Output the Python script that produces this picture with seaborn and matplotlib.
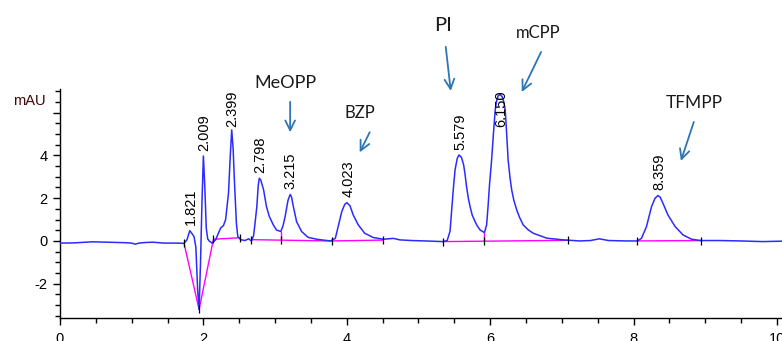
import numpy as np
import pandas as pd
import matplotlib
matplotlib.use("Agg")
import matplotlib.pyplot as plt
from matplotlib.ticker import MultipleLocator, FixedLocator
import seaborn as sns

# ---------------- data ----------------
time_min = [0.00, 0.20, 0.45, 0.70, 0.90, 1.00, 1.05, 1.10, 1.20, 1.30, 1.45, 1.60, 1.73,
            1.77, 1.81, 1.84, 1.87, 1.895, 1.92, 1.94, 1.96, 1.98, 2.00, 2.02, 2.04, 2.06,
            2.08, 2.12, 2.17, 2.21, 2.24, 2.28, 2.31, 2.35, 2.375, 2.395, 2.415, 2.43,
            2.46, 2.48, 2.52, 2.58, 2.63, 2.67, 2.70, 2.72, 2.745, 2.765, 2.78, 2.80,
            2.84, 2.88, 2.92, 2.975, 3.02, 3.08, 3.11, 3.14, 3.18, 3.21, 3.23, 3.25,
            3.30, 3.37, 3.46, 3.58, 3.77, 3.84, 3.88, 3.93, 3.97, 4.00, 4.045, 4.09,
            4.16, 4.25, 4.37, 4.51, 4.65, 4.74, 4.90, 5.10, 5.34, 5.40, 5.44, 5.46, 5.485,
            5.51, 5.54, 5.565, 5.60, 5.63, 5.65, 5.67, 5.695, 5.72, 5.75, 5.79, 5.82, 5.86,
            5.92, 5.95, 5.97, 5.99, 6.02, 6.045, 6.07, 6.09, 6.11, 6.14, 6.17, 6.19, 6.21,
            6.23, 6.25, 6.275, 6.30, 6.33, 6.37, 6.41, 6.46, 6.53, 6.60, 6.79, 7.02, 7.25,
            7.40, 7.52, 7.65, 7.90, 8.05, 8.11, 8.18, 8.25, 8.30, 8.34, 8.37, 8.41, 8.48,
            8.58, 8.69, 8.81, 8.93, 9.20, 9.50, 9.80, 10.07]
signal_mau = [-0.10, -0.09, -0.04, -0.06, -0.08, -0.10, -0.15, -0.10, -0.07, -0.06, -0.10, -0.10, -0.11,
              0.05, 0.48, 0.35, 0.20, -0.30, -2.30, -3.20, -1.00, 1.80, 3.97, 2.50, 0.60, 0.10,
              0.00, -0.10, 0.05, 0.36, 0.60, 0.72, 1.00, 2.23, 4.00, 5.19, 4.30, 3.00,
              0.83, 0.20, 0.06, 0.02, 0.10, 0.00, 0.25, 0.82, 1.60, 2.60, 2.93, 2.85,
              2.38, 1.60, 1.14, 0.75, 0.51, 0.44, 0.70, 1.14, 1.90, 2.17, 2.05, 1.68,
              0.90, 0.44, 0.17, 0.08, 0.00, 0.12, 0.67, 1.37, 1.70, 1.79, 1.64, 1.21,
              0.75, 0.36, 0.16, 0.08, 0.12, 0.05, 0.02, 0.00, -0.03, 0.02, 0.45, 1.30, 2.40,
              3.32, 3.85, 4.02, 3.90, 3.55, 3.10, 2.54, 2.00, 1.60, 1.20, 0.90, 0.70, 0.51,
              0.39, 0.75, 1.60, 2.60, 3.79, 5.00, 6.12, 6.55, 6.78, 6.85, 6.72, 6.50, 6.12,
              5.00, 3.79, 3.00, 2.38, 1.90, 1.45, 1.10, 0.75, 0.52, 0.36, 0.13, 0.05, 0.00,
              0.02, 0.10, 0.02, 0.00, 0.00, 0.12, 0.67, 1.60, 2.00, 2.12, 2.05, 1.76, 1.21,
              0.67, 0.28, 0.08, 0.02, 0.02, 0.00, -0.03, -0.01]

# integration baselines (magenta)
baseline_segments = [
    ([1.73, 1.94, 2.14, 2.51], [-0.11, -3.20, 0.08, 0.15]),
    ([2.67, 3.79], [0.06, 0.00]),
    ([3.79, 4.50], [0.00, 0.04]),
    ([5.34, 7.09], [-0.03, 0.03]),
    ([8.05, 8.94], [0.00, 0.02]),
]
# drop lines between unresolved peaks
drop_times = [3.08, 5.92]
drop_bottom = [0.04, 0.0]
drop_top = [0.44, 0.39]
# integration event ticks
event_times = [1.73, 1.94, 2.14, 2.51, 2.67, 3.08, 3.79, 4.50, 5.34, 5.92, 7.09, 8.05, 8.94]
event_levels = [-0.11, -3.20, 0.08, 0.15, 0.06, 0.04, 0.00, 0.04, -0.03, 0.00, 0.03, 0.00, 0.02]

# peak retention-time labels
peak_labels = ["1.821", "2.009", "2.399", "2.798", "3.215", "4.023", "5.579", "6.150", "8.359"]
peak_heights = [0.48, 3.97, 5.19, 2.93, 2.17, 1.79, 4.02, 6.85, 2.12]

# compound annotations
compounds = ["MeOPP", "BZP", "PI", "mCPP", "TFMPP"]
compound_text_xy = [(3.14, 7.38), (4.18, 5.98), (5.34, 10.09), (6.67, 9.72), (8.84, 6.45)]
arrow_start = [(3.21, 6.50), (4.32, 5.08), (5.38, 9.07), (6.71, 8.83), (8.84, 5.56)]
arrow_end = [(3.21, 5.08), (4.18, 4.14), (5.45, 7.01), (6.44, 6.96), (8.66, 3.74)]
compound_size = [13, 12, 14.5, 12, 12.5]

x_ticks = [0, 2, 4, 6, 8, 10]
y_ticks = [-2, 0, 2, 4, 6]
y_tick_labels = ["-2", "0", "2", "4", ""]

# ---------------- plot ----------------
sns.set_style("ticks")
plt.rcParams["font.family"] = ["Liberation Sans", "DejaVu Sans"]

fig = plt.figure(figsize=(7.82, 3.41), dpi=100)
ax = fig.add_axes([60 / 782, 23 / 341, 1 - 60 / 782, 229 / 341])

df = pd.DataFrame({"t": time_min, "mAU": signal_mau})

for xs, ys in baseline_segments:
    sns.lineplot(x=xs, y=ys, ax=ax, color="#ff00ff", lw=1.0, sort=False,
                 estimator=None, zorder=2)
for xt, yb, yt in zip(drop_times, drop_bottom, drop_top):
    ax.plot([xt, xt], [yb, yt], color="#ff00ff", lw=1.0, zorder=2)

sns.lineplot(data=df, x="t", y="mAU", ax=ax, color="#2b2bff", lw=1.1,
             sort=False, estimator=None, zorder=3)

ax.scatter(event_times, event_levels, marker="|", s=30, color="black", lw=0.9, zorder=4)

for lab, h in zip(peak_labels, peak_heights):
    ax.text(float(lab), min(h + 0.25, 5.33), lab, rotation=90, ha="center", va="bottom",
            fontsize=10.5, color="black", zorder=5)

for name, txy, a0, a1, fs in zip(compounds, compound_text_xy, arrow_start, arrow_end, compound_size):
    ax.text(txy[0], txy[1], name, ha="center", va="center", fontsize=fs,
            family=["Lato", "DejaVu Sans"], color="#1a1a1a", clip_on=False)
    ax.annotate("", xy=a1, xytext=a0, xycoords="data", annotation_clip=False,
                arrowprops=dict(arrowstyle="->,head_length=0.7,head_width=0.35",
                                color="#2e75b6", lw=1.3, shrinkA=0, shrinkB=0))

ax.set_xlim(0, 10.07)
ax.set_ylim(-3.6, 7.1)
ax.set_xlabel("")
ax.set_ylabel("")
sns.despine(ax=ax)
for s in ("left", "bottom"):
    ax.spines[s].set_color("black")
    ax.spines[s].set_linewidth(1.0)

ax.xaxis.set_major_locator(FixedLocator(x_ticks))
ax.xaxis.set_minor_locator(MultipleLocator(0.5))
ax.yaxis.set_major_locator(FixedLocator(y_ticks))
ax.set_yticklabels(y_tick_labels)
ax.yaxis.set_minor_locator(MultipleLocator(0.5))
ax.tick_params(axis="both", which="major", direction="out", length=5, width=1.0,
               color="black", labelsize=10.5, labelcolor="black")
ax.tick_params(axis="both", which="minor", direction="out", length=3.5, width=1.0, color="black")
ax.tick_params(axis="x", which="major", pad=5)
ax.tick_params(axis="y", which="major", pad=4)

ax.text(-0.20, 6.55, "mAU", ha="right", va="center", fontsize=10.5, color="#3a0808",
        clip_on=False)

fig.savefig("out.png", dpi=100)
